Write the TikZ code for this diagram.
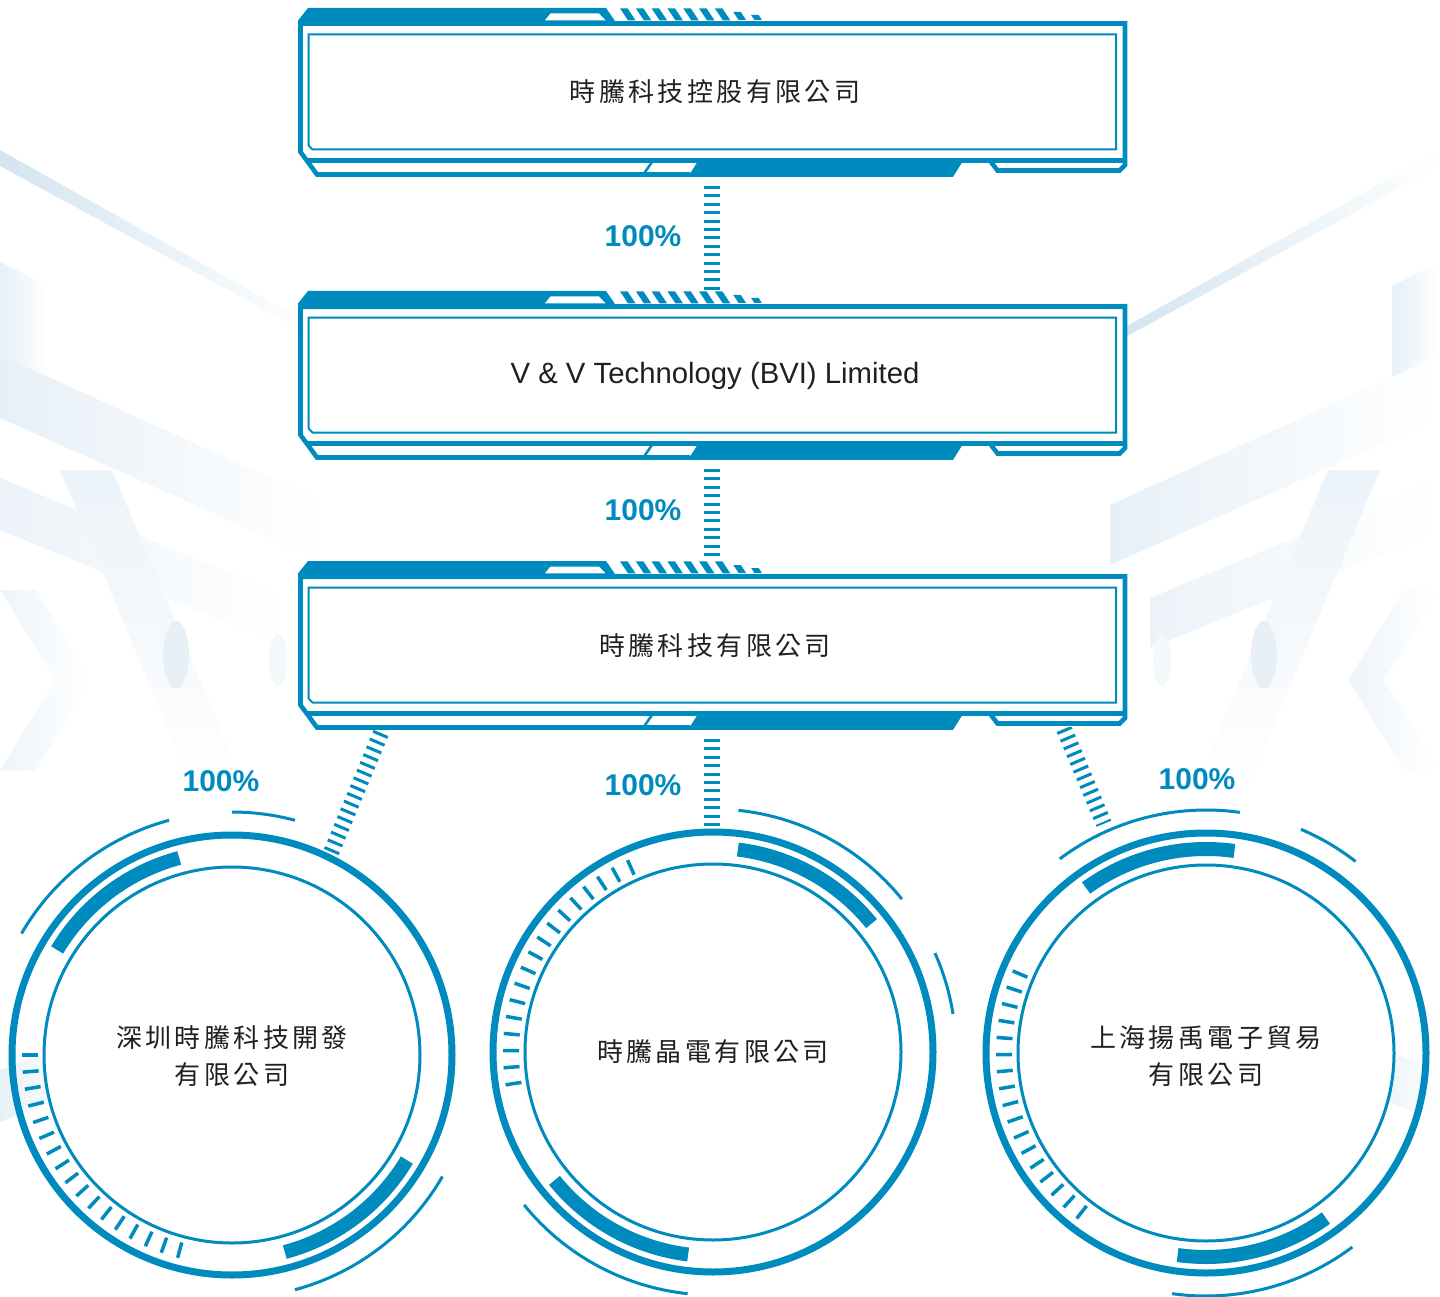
\documentclass[tikz,border=0pt]{standalone}
\usepackage{fontspec}
\setmainfont{Liberation Sans}
\newfontfamily\cjk[LetterSpace=13]{Noto Sans CJK TC}
\usetikzlibrary{calc}
\definecolor{brand}{HTML}{008BBF}
\definecolor{ink}{HTML}{231F20}
\definecolor{haze}{HTML}{E7F0F7}
\definecolor{hazedeep}{HTML}{D3E5F1}
\pgfdeclarelayer{hazelayer}
\pgfdeclarelayer{wires}
\pgfsetlayers{hazelayer,wires,main}

\tikzset{
  rim/.style={draw=brand, line width=4.6pt, line join=miter},
  innerrim/.style={draw=brand, line width=2pt, line join=miter},
  ringthick/.style={draw=brand, line width=7pt},
  ringthin/.style={draw=brand, line width=3pt},
  segment/.style={draw=brand, line width=14pt},
  halo/.style={draw=brand, line width=3pt},
  gauge/.style={draw=brand, line width=3.5pt},
  chain/.style={draw=brand, line width=16pt, dash pattern=on 3pt off 5.4pt},
  boxtext/.style={text=ink, inner sep=0pt},
  cjktext/.style={font=\cjk\fontsize{26}{37}\selectfont},
  circtext/.style={circle, minimum size=447pt, inner sep=0pt, outer sep=0pt,
                   text=ink, align=center, cjktext},
  pct/.style={text=brand, inner sep=0pt, font=\bfseries\fontsize{30}{30}\selectfont},
}

% soft background shapes for one side
\newcommand\hazeside{%
  \shade[left color=hazedeep, right color=white] (0,150) -- (0,166) -- (320,340) -- (320,330) -- cycle;
  \shade[left color=haze, right color=white] (0,262) -- (48,286) -- (48,386) -- (0,362) -- cycle;
  \shade[left color=haze, right color=white] (0,355) -- (330,505) -- (330,565) -- (0,418) -- cycle;
  \shade[left color=haze!80, right color=white] (0,478) -- (290,598) -- (290,648) -- (0,530) -- cycle;
  \shade[top color=haze!80, bottom color=white] (60,470) -- (112,470) -- (250,800) -- (198,800) -- cycle;
  \shade[left color=haze!70, right color=white] (0,590) -- (36,590) -- (92,680) -- (36,770) -- (0,770) -- (56,680) -- cycle;
  \fill[haze] (176,655) ellipse[x radius=13, y radius=34];
  \fill[haze!50] (278,660) ellipse[x radius=9, y radius=26];
  \shade[left color=haze, right color=white] (0,1070) -- (70,1045) -- (70,1095) -- (0,1122) -- cycle;
}

% company plaque; #1 = vertical offset, #2 = name prefix
\newcommand\plaque[2]{%
\begin{scope}[shift={(0,#1)}]
  \fill[white] (300,14) rectangle (1125,166);
  % top tab with cut corner, inset and hatching
  \fill[brand] (298,18) -- (298,12.5) -- (308,0) -- (606,0) -- (614.5,12.3) -- (614.5,18) -- cycle;
  \fill[white] (545,12.3) -- (550.5,5.5) -- (599,5.5) -- (605.5,12.3) -- cycle;
  \foreach \k in {0,...,6}{
    \fill[brand] ({620+15.8*\k},0.3) -- ++(7.5,0) -- ++(8,12) -- ++(-7.5,0) -- cycle;
  }
  \fill[brand] (733.3,4) -- ++(7.5,0) -- ++(5.3,8) -- ++(-7.5,0) -- cycle;
  \fill[brand] (751.1,7) -- ++(7.5,0) -- ++(3.3,5) -- ++(-7.5,0) -- cycle;
  % outer rim
  \draw[rim] (300.5,12) -- (300.5,144) -- (317,166.5) -- (690,166.5);
  \draw[rim] (298,15.5) -- (1127.3,15.5);
  \draw[rim] (1125,13) -- (1125,157) -- (1119.5,162.5) -- (997.5,162.5) -- (991,154);
  \draw[rim] (306,152.5) -- (1125,152.5);
  \draw[brand, line width=2.5pt] (643,167) -- (652,154);
  \fill[brand] (688,168.8) -- (698,153) -- (963,153) -- (953,168.8) -- cycle;
  % inner frame
  \draw[innerrim] (308.5,26.5) -- (1116,26.5) -- (1116,141.5) -- (312.5,141.5) -- (308.5,137.5) -- cycle;
  \coordinate (#2-n) at (712,-1);
  \coordinate (#2-s) at (712,178);
  \coordinate (#2-sw) at (381,172);
  \coordinate (#2-se) at (1064,168);
\end{scope}}

% ring ornament; #1,#2 = centre, #3 = turn of the pattern (degrees)
\newcommand\ringdeco[3]{%
\begin{scope}[shift={(#1,#2)}, yscale=-1]
  \fill[white] (0,0) circle[radius=188];
  \draw[ringthin] (0,0) circle[radius=188];
  \draw[ringthick] (0,0) circle[radius=220];
  \draw[segment] ({105+#3}:204) arc[start angle={105+#3}, end angle={149+#3}, radius=204];
  \draw[segment] ({285+#3}:204) arc[start angle={285+#3}, end angle={329+#3}, radius=204];
  \draw[halo] ({105+#3}:243) arc[start angle={105+#3}, end angle={150+#3}, radius=243];
  \draw[halo] ({75+#3}:243) arc[start angle={75+#3}, end angle={90+#3}, radius=243];
  \draw[halo] ({285+#3}:243) arc[start angle={285+#3}, end angle={330+#3}, radius=243];
  \foreach \k in {0,...,16}{
    \draw[gauge] ({180+#3+\k*4.6875}:194) -- ({180+#3+\k*4.6875}:210);
  }
\end{scope}}

\begin{document}
\begin{tikzpicture}[x=1pt, y=-1pt]
  \useasboundingbox (0,0) rectangle (1440,1297);

  \begin{pgfonlayer}{hazelayer}
    \fill[white] (0,0) rectangle (1440,1297);
    \hazeside
    \begin{scope}[shift={(1440,0)}, xscale=-1]
      \hazeside
    \end{scope}
  \end{pgfonlayer}

  % plaques
  \plaque{8}{b1}
  \plaque{291}{b2}
  \plaque{561}{b3}

  \node[boxtext, cjktext] (t1) at (715,92) {時騰科技控股有限公司};
  \node[boxtext] (t2) at (715,376) {\fontsize{29.3}{32}\selectfont V \& V Technology (BVI) Limited};
  \node[boxtext, cjktext] (t3) at (715,646) {時騰科技有限公司};

  % subsidiaries
  \ringdeco{232}{1055}{0}
  \ringdeco{713}{1052}{-66}
  \ringdeco{1206}{1053}{-23}
  \begin{scope}[shift={(1206,1053)}, yscale=-1]
    \coordinate (c3-top) at (114:251);
  \end{scope}

  \node[circtext] (c1) at (232,1056) {深圳時騰科技開發\\有限公司};
  \node[circtext] (c2) at (713,1052) {時騰晶電有限公司};
  \node[circtext] (c3) at (1206,1056) {上海揚禹電子貿易\\有限公司};

  % ownership links
  \begin{pgfonlayer}{wires}
    \draw[chain] (b1-s) -- (b2-n);
    \draw[chain] (b2-s) -- (b3-n);
    \draw[chain] (b3-s) -- (b3-s |- c2.north);
    \draw[chain] (b3-sw) -- (c1.64);
    \draw[chain] (b3-se) -- (c3-top);
  \end{pgfonlayer}

  \node[pct] (p1) at (643,236) {100\%};
  \node[pct] (p2) at (643,510) {100\%};
  \node[pct] (p3) at (643,785) {100\%};
  \node[pct] (p4) at (221,781) {100\%};
  \node[pct] (p5) at (1197,779) {100\%};
\end{tikzpicture}
\end{document}
